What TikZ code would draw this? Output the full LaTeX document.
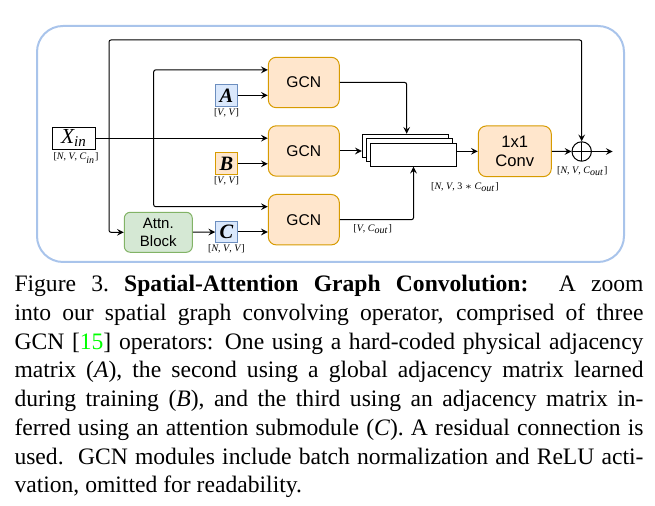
\documentclass[tikz,border=0pt]{standalone}
\usepackage{fontspec}
\setmainfont{Liberation Serif}
\setsansfont{Liberation Sans}
\usepackage{xcolor}
\usepackage{tikz}
\usetikzlibrary{shapes, arrows, positioning, calc}
\definecolor{gcnfill}{HTML}{FFE6CC}
\definecolor{gcnline}{HTML}{D79B00}
\definecolor{adjfill}{HTML}{DAE8FC}
\definecolor{adjline}{HTML}{6C8EBF}
\definecolor{attnfill}{HTML}{D5E8D4}
\definecolor{attnline}{HTML}{82B366}
\definecolor{framecolor}{HTML}{A9C4EB}
\definecolor{citegreen}{RGB}{0, 255, 0}

\begin{document}
\begin{tikzpicture}[x=0.5pt, y=-0.5pt, line width=0.5pt,
    gcn/.style={
        rectangle, draw=gcnline, fill=gcnfill, rounded corners=4pt,
        minimum width=35.5pt, minimum height=25.2pt, inner sep=0pt,
        align=center, font=\sffamily\fontsize{7.8}{9.2}\selectfont
    },
    adjmat/.style={
        rectangle, draw=adjline, fill=adjfill, minimum size=10.8pt, inner sep=0pt,
        font=\bfseries\itshape\fontsize{10.2}{12}\selectfont
    },
    stackbox/.style={
        rectangle, draw, fill=white, minimum width=43pt, minimum height=11.5pt, inner sep=0pt
    },
    dimlbl/.style={font=\fontsize{5}{6}\selectfont, inner sep=0.5pt},
    arrow/.style={->, >=stealth}
]
\useasboundingbox (0,0) rectangle (655,506);

% Frame
\draw[framecolor, line width=1pt, rounded corners=13pt] (37,26) rectangle (624,262);

% Input
\node[draw, minimum width=21.7pt, minimum height=10.85pt, inner sep=0pt,
      font=\itshape\fontsize{10.7}{12}\selectfont] (xin) at (74,138.2) {X\textsubscript{in}};
\node[dimlbl] (xinlbl) at (76,158) {[\textit{N}, \textit{V}, \textit{C}\textsubscript{\textit{in}}]};
\coordinate (split) at (109,138.2);
\coordinate (branch) at (153.7,138.2);
\coordinate (skip) at (109,40);

% Adjacency matrices
\node[adjmat] (matA) at (226.5,95.3) {A};
\node[adjmat, draw=gcnline, fill=gcnfill] (matB) at (226.5,163.8) {B};
\node[adjmat] (matC) at (226.5,232) {C};
\node[dimlbl, below=0pt of matA] (lblA) {[\textit{V}, \textit{V}]};
\node[dimlbl, below=0pt of matB] (lblB) {[\textit{V}, \textit{V}]};
\node[dimlbl, below=0pt of matC] (lblC) {[\textit{N}, \textit{V}, \textit{V}]};

% Attention
\node[rectangle, draw=attnline, fill=attnfill, rounded corners=3pt, minimum width=34pt,
      minimum height=20pt, inner sep=0pt, align=center,
      font=\sffamily\fontsize{7.5}{8.85}\selectfont] (attn) at (158.3,232.3) {Attn.\\Block};

% GCNs
\node[gcn] (gcnA) at (303.8,82.5) {GCN};
\node[gcn] (gcnB) at (303.8,151) {GCN};
\node[gcn] (gcnC) at (303.8,219.7) {GCN};

% Concatenation
\node[stackbox] (stack3) at (405.3,145.8) {};
\node[stackbox] (stack2) at (409.3,149.8) {};
\node[stackbox] (stack1) at (413.5,154.7) {};

% Conv and sum
\node[gcn, minimum width=36.5pt, minimum height=25.35pt,
      font=\sffamily\fontsize{8.3}{9.2}\selectfont] (conv) at (514.8,151.3) {1x1\\Conv};
\node[circle, draw, minimum size=9.7pt, inner sep=0pt,
      path picture={\draw (path picture bounding box.north) -- (path picture bounding box.south)
                          (path picture bounding box.west) -- (path picture bounding box.east);}]
      (sum) at (581.7,151.5) {};
\coordinate (out) at (612.7,151.5);

% Labels
\node[dimlbl] (lblgc) at (372.7,229.3) {[\textit{V}, \textit{C}\textsubscript{\textit{out}}]};
\node[dimlbl] (lblcat) at (465,186.7) {[\textit{N}, \textit{V}, 3 $\ast$ \textit{C}\textsubscript{\textit{out}}]};
\node[dimlbl] (lblout) at (582.3,171) {[\textit{N}, \textit{V}, \textit{C}\textsubscript{\textit{out}}]};

% Arrows
\draw[arrow] (xin) -- (xin -| gcnB.west);
\draw[arrow, rounded corners=1pt] (split) -- (skip) -| (sum.north);
\draw[arrow, rounded corners=1pt] (split) |- (attn.west);
\draw[arrow, rounded corners=1pt] (branch) |- ([yshift=6.3pt]gcnA.west);
\draw[arrow, rounded corners=1pt] (branch) |- ([yshift=6.5pt]gcnC.west);
\draw[arrow] (matA) -- (matA -| gcnA.west);
\draw[arrow] (matB) -- (matB -| gcnB.west);
\draw[arrow] (attn) -- (matC);
\draw[arrow] (matC) -- (matC -| gcnC.west);
\draw[arrow, rounded corners=1pt] (gcnA) -| ([xshift=0.7pt]stack3.north);
\draw[arrow] (gcnB) -- (gcnB -| stack3.west);
\draw[arrow, rounded corners=1pt] (gcnC) -| (stack1.south);
\draw[arrow] (conv.west -| stack1.east) -- (conv);
\draw[arrow] (conv) -- (sum);
\draw[arrow] (sum) -- (out);

% Caption
\node[anchor=north west, inner sep=0pt, text width=314.5pt, align=justify,
      font=\fontsize{11.8}{14.35}\selectfont] (caption) at (14,275) {Figure 3.\ \textbf{Spatial-Attention Graph Convolution:}\ \ A zoom\linebreak
into our spatial graph convolving operator, comprised of three\linebreak
GCN [\textcolor{citegreen}{15}] operators: One using a hard-coded physical adjacency\linebreak
matrix (\textit{A}), the second using a global adjacency matrix learned\linebreak
during training (\textit{B}), and the third using an adjacency matrix in-\linebreak
ferred using an attention submodule (\textit{C}). A residual connection is\linebreak
used.\ \ GCN modules include batch normalization and ReLU acti-\linebreak
vation, omitted for readability.};

\end{tikzpicture}
\end{document}
